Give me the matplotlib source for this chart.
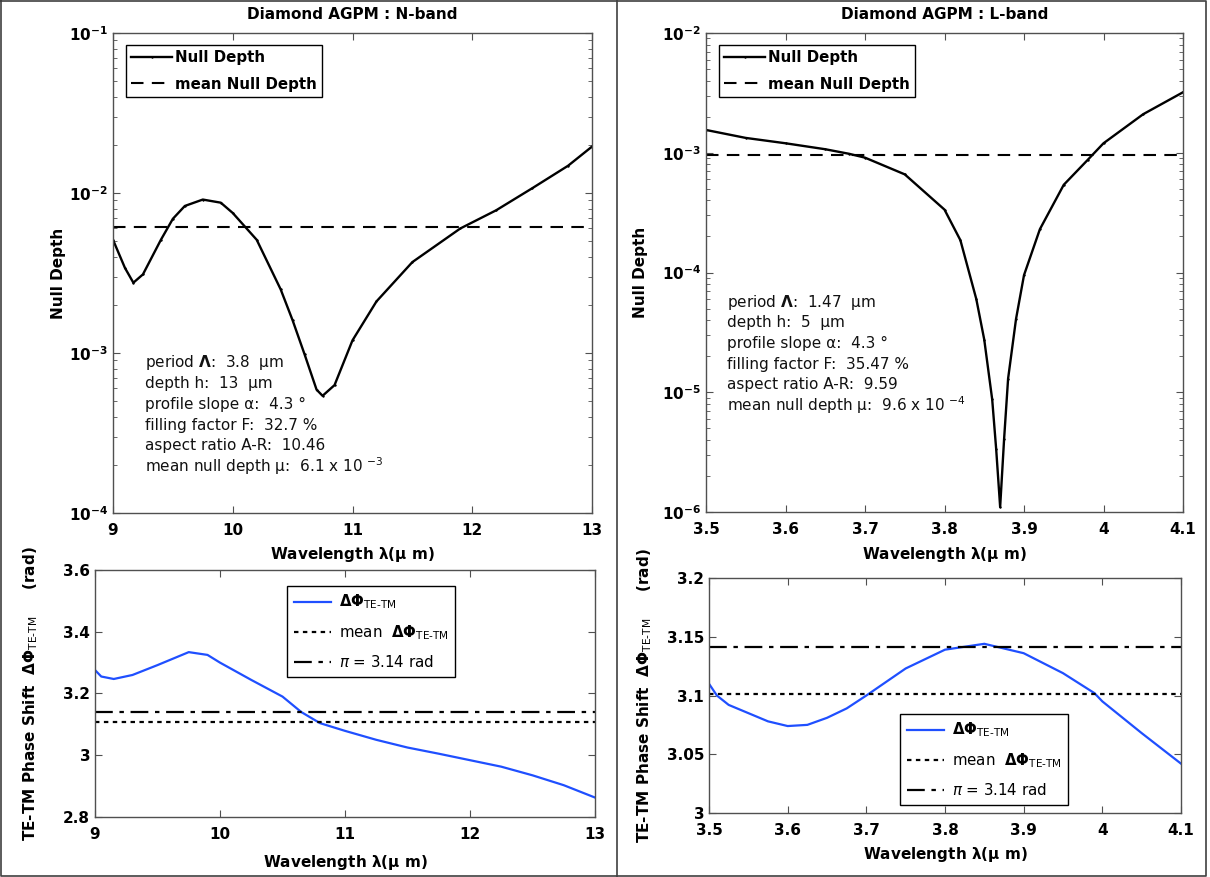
import numpy as np
import matplotlib
matplotlib.use('Agg')
import matplotlib.pyplot as plt
from matplotlib.lines import Line2D
from matplotlib.ticker import LogLocator, NullFormatter, FormatStrFormatter

# ---- data ----

# N-band null depth
n_wl = [9.0, 9.1, 9.17, 9.25, 9.4, 9.5, 9.6, 9.75, 9.9, 10.0, 10.2, 10.4, 10.5,
        10.6, 10.7, 10.75, 10.85, 11.0, 11.2, 11.5, 11.9, 12.2, 12.5, 12.8, 13.0]
n_null = [5.1e-3, 3.4e-3, 2.75e-3, 3.1e-3, 5.1e-3, 6.9e-3, 8.3e-3, 9.1e-3, 8.7e-3,
          7.5e-3, 5.1e-3, 2.5e-3, 1.6e-3, 9.8e-4, 5.9e-4, 5.4e-4, 6.3e-4, 1.2e-3,
          2.1e-3, 3.7e-3, 6.0e-3, 7.8e-3, 1.07e-2, 1.48e-2, 1.95e-2]
n_mean = 6.1e-3

# L-band null depth
l_wl = [3.5, 3.55, 3.6, 3.65, 3.68, 3.7, 3.75, 3.8, 3.82, 3.84, 3.85, 3.86, 3.865,
        3.87, 3.875, 3.88, 3.89, 3.9, 3.92, 3.95, 3.98, 4.0, 4.05, 4.1]
l_null = [1.55e-3, 1.33e-3, 1.2e-3, 1.07e-3, 9.8e-4, 9.1e-4, 6.6e-4, 3.35e-4,
          1.86e-4, 6.0e-5, 2.75e-5, 8.7e-6, 3.35e-6, 1.1e-6, 4.1e-6, 1.3e-5,
          4.1e-5, 9.5e-5, 2.3e-4, 5.4e-4, 8.7e-4, 1.2e-3, 2.1e-3, 3.2e-3]
l_mean = 9.6e-4

# N-band phase shift
pn_wl = [9.0, 9.05, 9.15, 9.3, 9.5, 9.75, 9.9, 10.0, 10.25, 10.5, 10.65, 10.8, 11.0,
         11.25, 11.5, 11.75, 12.0, 12.25, 12.5, 12.75, 13.0]
pn_phase = [3.276, 3.255, 3.247, 3.26, 3.292, 3.334, 3.325, 3.30, 3.244, 3.19, 3.14,
            3.104, 3.079, 3.05, 3.025, 3.005, 2.984, 2.963, 2.935, 2.903, 2.863]
pn_mean = 3.107

# L-band phase shift
pl_wl = [3.5, 3.51, 3.525, 3.55, 3.575, 3.6, 3.625, 3.65, 3.675, 3.7, 3.75, 3.8,
         3.85, 3.9, 3.95, 3.99, 4.0, 4.05, 4.1]
pl_phase = [3.110, 3.100, 3.092, 3.085, 3.078, 3.074, 3.075, 3.081, 3.089, 3.100,
            3.123, 3.139, 3.144, 3.136, 3.119, 3.102, 3.095, 3.068, 3.042]
pl_mean = 3.101

pi_val = np.pi

n_params = ['period $\\mathbf{\\Lambda}$:  3.8  \u03bcm', 'depth h:  13  \u03bcm',
            'profile slope \u03b1:  4.3 \u00b0', 'filling factor F:  32.7 %',
            'aspect ratio A-R:  10.46', 'mean null depth \u03bc:  6.1 x 10 $^{-3}$']
l_params = ['period $\\mathbf{\\Lambda}$:  1.47  \u03bcm', 'depth h:  5  \u03bcm',
            'profile slope \u03b1:  4.3 \u00b0', 'filling factor F:  35.47 %',
            'aspect ratio A-R:  9.59', 'mean null depth \u03bc:  9.6 x 10 $^{-4}$']

# ---- drawing ----

W, H = 1210, 877
fig = plt.figure(figsize=(W / 100, H / 100), dpi=100)

edge = '#505050'
blue = '#1f4fff'
dphi = r'$\mathbf{\Delta\Phi}_{\mathrm{TE}\text{-}\mathrm{TM}}$'
wl_label = r'Wavelength $\mathbf{\lambda}$($\mathbf{\mu}$ m)'


def new_axes(x0, y0, x1, y1):
    ax = fig.add_axes([x0 / W, 1 - y1 / H, (x1 - x0) / W, (y1 - y0) / H])
    ax.px = (x1 - x0, y1 - y0)
    return ax


def style(ax, ylab_off, xlab_off):
    for s in ax.spines.values():
        s.set_color(edge)
        s.set_linewidth(1.0)
    ax.tick_params(which='both', direction='in', top=True, right=True,
                   color=edge, labelsize=11)
    ax.tick_params(which='major', length=5)
    ax.tick_params(which='minor', length=3)
    ax.tick_params(axis='x', which='major', pad=7)
    for lab in ax.get_xticklabels() + ax.get_yticklabels():
        lab.set_fontweight('bold')
    ax.yaxis.set_label_coords(-ylab_off / ax.px[0], 0.5)
    ax.xaxis.set_label_coords(0.5, -xlab_off / ax.px[1])


def log_labels(ax, lo, hi):
    ticks = [10.0 ** e for e in range(lo, hi + 1)]
    ax.set_yticks(ticks)
    ax.set_yticklabels([r'$\mathbf{10^{%d}}$' % e for e in range(lo, hi + 1)])
    ax.yaxis.set_minor_locator(LogLocator(base=10, subs=np.arange(2, 10)))
    ax.yaxis.set_minor_formatter(NullFormatter())


def null_plot(pos, wl, nd, mean, xlim, xticks, ylo, yhi, title, params, tpos, ylab_off):
    ax = new_axes(*pos)
    ax.plot(wl, nd, '-', color='k', lw=1.7, marker='+', ms=2, label='Null Depth')
    ax.plot(xlim, [mean, mean], '--', color='k', lw=1.5, dashes=(6, 4),
            label='mean Null Depth')
    ax.set_yscale('log')
    ax.set_xlim(xlim)
    ax.set_ylim(10.0 ** ylo, 10.0 ** yhi)
    ax.set_xticks(xticks)
    ax.xaxis.set_major_formatter(FormatStrFormatter('%g'))
    log_labels(ax, ylo, yhi)
    ax.set_title(title, fontsize=11, fontweight='bold', pad=10)
    ax.set_xlabel(wl_label, fontsize=11, fontweight='bold', va='center')
    ax.set_ylabel('Null Depth', fontsize=11, fontweight='bold', va='center')
    style(ax, ylab_off, 42)
    leg = ax.legend(loc='upper left', bbox_to_anchor=(13 / ax.px[0], 1 - 12 / ax.px[1]),
                    borderaxespad=0, fancybox=False, edgecolor='k', framealpha=1,
                    handlelength=2.7, handletextpad=0.2, borderpad=0.35,
                    labelspacing=0.75, prop={'weight': 'bold', 'size': 10.8})
    leg.get_frame().set_linewidth(1.0)
    tx, ty = tpos
    for i, t in enumerate(params):
        ax.text((tx - pos[0]) / ax.px[0], (pos[3] - ty - i * 20.7) / ax.px[1], t,
                transform=ax.transAxes, fontsize=11, color='#111111', va='center')
    return ax


def phase_plot(pos, wl, ph, mean, xlim, xticks, ylim, yticks, legxy, xlab_off):
    ax = new_axes(*pos)
    ax.plot(wl, ph, '-', color=blue, lw=1.6, label=dphi)
    ax.plot(xlim, [mean, mean], ':', color='k', lw=1.6, dashes=(2, 2),
            label='mean  ' + dphi)
    ax.plot(xlim, [pi_val, pi_val], '-.', color='k', lw=1.6, dashes=(8, 3, 2, 3),
            label=r'$\pi$ = 3.14 rad')
    ax.set_xlim(xlim)
    ax.set_ylim(ylim)
    ax.set_xticks(xticks)
    ax.set_yticks(yticks)
    ax.xaxis.set_major_formatter(FormatStrFormatter('%g'))
    ax.yaxis.set_major_formatter(FormatStrFormatter('%g'))
    ax.set_xlabel(wl_label, fontsize=11, fontweight='bold', va='center')
    ax.set_ylabel('TE-TM Phase Shift  ' + dphi + '     (rad)', fontsize=11,
                  fontweight='bold', va='center')
    style(ax, 64, xlab_off)
    lx, ly = legxy
    leg = ax.legend(loc='upper left',
                    bbox_to_anchor=((lx - pos[0]) / ax.px[0], (pos[3] - ly) / ax.px[1]),
                    borderaxespad=0, fancybox=False, edgecolor='k', framealpha=1,
                    handlelength=2.5, handletextpad=0.5, borderpad=0.45,
                    labelspacing=0.8, prop={'size': 10.8})
    leg.get_frame().set_linewidth(1.0)
    return ax


null_plot((113, 33, 592, 513), n_wl, n_null, n_mean, [9, 13], [9, 10, 11, 12, 13],
          -4, -1, 'Diamond AGPM : N-band', n_params, (145, 363), 55)
null_plot((706, 33, 1183, 512), l_wl, l_null, l_mean, [3.5, 4.1],
          [3.5, 3.6, 3.7, 3.8, 3.9, 4.0, 4.1], -6, -2, 'Diamond AGPM : L-band',
          l_params, (727, 302), 66)

phase_plot((95, 570, 595, 817), pn_wl, pn_phase, pn_mean, [9, 13], [9, 10, 11, 12, 13],
           [2.8, 3.6], [2.8, 3.0, 3.2, 3.4, 3.6], (287, 586), 46)
phase_plot((709, 578, 1181, 813), pl_wl, pl_phase, pl_mean, [3.5, 4.1],
           [3.5, 3.6, 3.7, 3.8, 3.9, 4.0, 4.1], [3.0, 3.2],
           [3.0, 3.05, 3.1, 3.15, 3.2], (900, 714), 42)

# separator and outer frame
fig.add_artist(Line2D([617 / W, 617 / W], [0, 1], color='#404040', lw=1.2))
fig.add_artist(Line2D([0.5 / W, 1206 / W, 1206 / W, 0.5 / W, 0.5 / W],
                      [1 - 1 / H, 1 - 1 / H, 1 / H, 1 / H, 1 - 1 / H],
                      color='#404040', lw=1.2))

fig.savefig('out.png', dpi=100)
